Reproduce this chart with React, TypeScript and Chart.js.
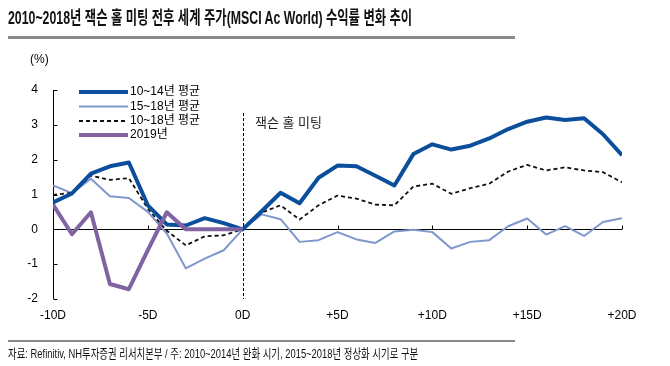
import React, { useEffect, useRef } from "react";
import { Chart, registerables } from "chart.js";
Chart.register(...registerables);

const days = [-10, -9, -8, -7, -6, -5, -4, -3, -2, -1, 0, 1, 2, 3, 4, 5, 6, 7, 8, 9, 10, 11, 12, 13, 14, 15, 16, 17, 18, 19, 20];
const xTickDays = [-10, -5, 0, 5, 10, 15, 20];
const xTickLabels = ["-10D", "-5D", "0D", "+5D", "+10D", "+15D", "+20D"];
const yTicks = [-2, -1, 0, 1, 2, 3, 4];
const seriesNames = ["10~14년 평균", "15~18년 평균", "10~18년 평균", "2019년"];

const avg1014 = [0.77, 1.03, 1.6, 1.81, 1.92, 0.69, 0.14, 0.11, 0.32, 0.18, 0, 0.52, 1.05, 0.75, 1.48, 1.83, 1.81, 1.54, 1.26, 2.16, 2.44, 2.29, 2.4, 2.61, 2.88, 3.09, 3.21, 3.14, 3.19, 2.73, 2.13];
const avg1518 = [1.26, 1.04, 1.45, 0.95, 0.9, 0.5, -0.12, -1.12, -0.84, -0.6, 0, 0.43, 0.29, -0.36, -0.31, -0.08, -0.29, -0.39, -0.06, -0.01, -0.08, -0.55, -0.36, -0.31, 0.09, 0.31, -0.15, 0.09, -0.19, 0.21, 0.32];
const avg1018 = [0.99, 1.05, 1.54, 1.42, 1.47, 0.59, -0.04, -0.46, -0.2, -0.17, 0, 0.48, 0.69, 0.28, 0.69, 0.97, 0.88, 0.71, 0.69, 1.23, 1.31, 1.02, 1.18, 1.31, 1.66, 1.85, 1.69, 1.78, 1.69, 1.64, 1.35];
const y2019 = [0.71, -0.14, 0.49, -1.57, -1.72, -0.6, 0.49, 0, 0, 0, 0];

const colors = ["#0b4f9c", "#7f97cc", "#111111", "#8064a2"];
const widths = [4, 2, 1.8, 4];
const dashes: number[][] = [[], [], [4, 3], []];

const FONT = "'Liberation Sans', Arial, 'Noto Sans CJK KR', sans-serif";

const toPts = (vals: number[]) => vals.map((v, i) => ({ x: days[i], y: v }));

const decor = {
  id: "decor",
  beforeDatasetsDraw(chart: any) {
    const ctx = chart.ctx;
    const xs = chart.scales.x;
    const ys = chart.scales.y;
    const area = chart.chartArea;
    ctx.save();
    ctx.strokeStyle = "#000";
    ctx.lineWidth = 1;
    const x0 = Math.round(area.left) + 0.5;
    ctx.beginPath();
    ctx.moveTo(x0, ys.getPixelForValue(4));
    ctx.lineTo(x0, ys.getPixelForValue(-2));
    ctx.stroke();
    yTicks.forEach((t) => {
      const y = Math.round(ys.getPixelForValue(t)) + 0.5;
      ctx.beginPath();
      ctx.moveTo(x0, y);
      ctx.lineTo(x0 + 4, y);
      ctx.stroke();
    });
    const yz = Math.round(ys.getPixelForValue(0)) + 0.5;
    ctx.beginPath();
    ctx.moveTo(x0, yz);
    ctx.lineTo(xs.getPixelForValue(20), yz);
    ctx.stroke();
    xTickDays.forEach((d) => {
      const x = Math.round(xs.getPixelForValue(d)) + 0.5;
      ctx.beginPath();
      ctx.moveTo(x, yz);
      ctx.lineTo(x, yz - 4);
      ctx.stroke();
    });
    const xv = Math.round(xs.getPixelForValue(0)) + 0.5;
    ctx.setLineDash([3, 2]);
    ctx.beginPath();
    ctx.moveTo(xv, 113);
    ctx.lineTo(xv, ys.getPixelForValue(-2));
    ctx.stroke();
    ctx.setLineDash([]);
    ctx.restore();
  },
  afterDraw(chart: any) {
    const ctx = chart.ctx;
    const xs = chart.scales.x;
    const ys = chart.scales.y;
    ctx.save();
    ctx.fillStyle = "#000";
    ctx.font = `12px ${FONT}`;
    ctx.textBaseline = "middle";
    ctx.textAlign = "right";
    yTicks.forEach((t) => {
      ctx.fillText(String(t), 38, ys.getPixelForValue(t));
    });
    ctx.textAlign = "left";
    ctx.fillText("(%)", 30, 60);
    ctx.textAlign = "center";
    xTickDays.forEach((d, i) => {
      ctx.fillText(xTickLabels[i], xs.getPixelForValue(d), 316);
    });
    ctx.textAlign = "left";
    ctx.font = `13px ${FONT}`;
    ctx.fillStyle = "#222";
    ctx.fillText("잭슨 홀 미팅", 255, 123);
    ctx.font = `12px ${FONT}`;
    ctx.fillStyle = "#000";
    const rows = [92, 106.5, 121, 135];
    seriesNames.forEach((name, i) => {
      const y = rows[i];
      ctx.strokeStyle = colors[i];
      ctx.lineWidth = widths[i];
      ctx.setLineDash(dashes[i]);
      ctx.beginPath();
      ctx.moveTo(79, y);
      ctx.lineTo(128, y);
      ctx.stroke();
      ctx.setLineDash([]);
      ctx.fillText(name, 130, y);
    });
    ctx.restore();
  },
};

export default function App() {
  const ref = useRef<HTMLCanvasElement | null>(null);
  const titleRef = useRef<HTMLDivElement | null>(null);
  const footRef = useRef<HTMLDivElement | null>(null);
  useEffect(() => {
    const fit = (el: HTMLDivElement | null, target: number) => {
      if (!el) return;
      const w = el.scrollWidth;
      if (w > 0) el.style.transform = `scaleX(${target / w})`;
    };
    fit(titleRef.current, 404);
    fit(footRef.current, 410);
    if (!ref.current) return;
    const series = [avg1014, avg1518, avg1018, y2019];
    const orders = [1, 3, 2, 0];
    const chart = new Chart(ref.current, {
      type: "line",
      data: {
        datasets: series.map((vals, i) => ({
          label: seriesNames[i],
          data: toPts(vals),
          borderColor: colors[i],
          borderWidth: widths[i],
          borderDash: dashes[i],
          pointRadius: 0,
          fill: false,
          tension: 0,
          order: orders[i],
          borderJoinStyle: "round" as const,
        })),
      },
      options: {
        responsive: false,
        animation: false,
        layout: { padding: { left: 53, right: 48, top: 90, bottom: 67 } },
        plugins: { legend: { display: false }, tooltip: { enabled: false } },
        scales: {
          x: { type: "linear", min: -10, max: 20, display: false },
          y: { type: "linear", min: -2, max: 4, display: false },
        },
      },
      plugins: [decor],
    });
    return () => chart.destroy();
  }, []);

  const narrow = "'Liberation Sans Narrow', 'Liberation Sans', 'Noto Sans CJK KR', sans-serif";
  return (
    <div style={{ position: "fixed", left: 0, top: 0, width: 670, height: 366, background: "#fff", overflow: "hidden" }}>
      <canvas ref={ref} width={670} height={366} style={{ position: "absolute", left: 0, top: 0 }} />
      <div ref={titleRef} style={{ position: "absolute", left: 8, top: 7, fontFamily: narrow, fontWeight: "bold", fontSize: 18, whiteSpace: "nowrap", color: "#111", lineHeight: "22px", transformOrigin: "left top", display: "inline-block" }}>
        2010~2018년 잭슨 홀 미팅 전후 세계 주가(MSCI Ac World) 수익률 변화 추이
      </div>
      <div style={{ position: "absolute", left: 8, top: 36, width: 507, height: 3, background: "#8a8a8a" }} />
      <div style={{ position: "absolute", left: 8, top: 340, width: 507, height: 2, background: "#8a8a8a" }} />
      <div ref={footRef} style={{ position: "absolute", left: 8, top: 346, fontFamily: narrow, fontSize: 13, whiteSpace: "nowrap", color: "#111", lineHeight: "16px", transformOrigin: "left top", display: "inline-block" }}>
        자료: Refinitiv, NH투자증권 리서치본부 / 주: 2010~2014년 완화 시기, 2015~2018년 정상화 시기로 구분
      </div>
    </div>
  );
}
